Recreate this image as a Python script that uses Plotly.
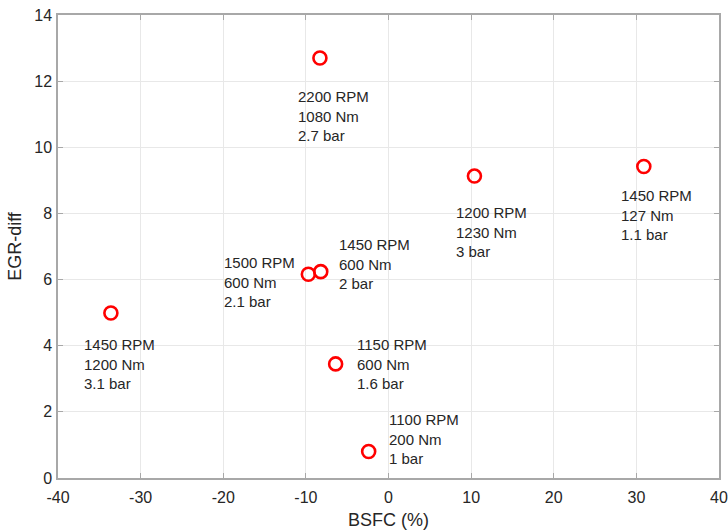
import plotly.graph_objects as go

# Operating points: BSFC change vs EGR difference
bsfc = [-8.3, 10.4, 30.9, -33.6, -9.7, -8.2, -6.4, -2.4]
egr_diff = [12.7, 9.13, 9.42, 4.99, 6.16, 6.24, 3.45, 0.8]
speed_rpm = [2200, 1200, 1450, 1450, 1500, 1450, 1150, 1100]
torque_nm = [1080, 1230, 127, 1200, 600, 600, 600, 200]
bmep_bar = ["2.7", "3", "1.1", "3.1", "2.1", "2", "1.6", "1"]

# Where each text block sits (left edge x, vertical centre y), in data units
label_x = [-11.25, 7.95, 27.95, -37.15, -20.15, -6.2, -4.1, -0.15]
label_y = [10.95, 7.45, 7.95, 3.45, 5.94, 6.47, 3.45, 1.18]

x_ticks = [-40, -30, -20, -10, 0, 10, 20, 30, 40]
x_tick_text = ["-40", "-30", "-20", "-10", "0", "10", "20", "30", "40"]
y_ticks = [0, 2, 4, 6, 8, 10, 12, 14]

FONT = "Liberation Sans, Arial, Helvetica, sans-serif"
AXIS_GREY = "#a8a8a8"
TEXT_COL = "#262626"

fig = go.Figure()
fig.add_trace(go.Scatter(
    x=bsfc, y=egr_diff, mode="markers",
    marker=dict(symbol="circle-open", size=13, color="#ff0000",
                line=dict(width=2.6, color="#ff0000")),
    showlegend=False, hoverinfo="x+y",
))

for xs, ys, n, t, p in zip(label_x, label_y, speed_rpm, torque_nm, bmep_bar):
    fig.add_annotation(
        x=xs, y=ys, xref="x", yref="y",
        text=f"{n} RPM<br>{t} Nm<br>{p} bar",
        showarrow=False, xanchor="left", yanchor="middle", align="left",
        font=dict(family=FONT, size=15, color=TEXT_COL),
    )

axis_common = dict(
    showline=True, linecolor=AXIS_GREY, linewidth=1.5, mirror="ticks",
    ticks="inside", ticklen=5, tickcolor=AXIS_GREY, tickwidth=1,
    showgrid=True, gridcolor="#e8e8e8", gridwidth=1, zeroline=False,
    tickfont=dict(family=FONT, size=16, color=TEXT_COL),
)

fig.update_xaxes(
    range=[-40, 40], tickvals=x_ticks, ticktext=x_tick_text,
    ticklabelstandoff=4,
    title=dict(text="BSFC (%)", font=dict(family=FONT, size=18, color=TEXT_COL), standoff=8),
    **axis_common,
)
fig.update_yaxes(
    range=[0, 14], tickvals=y_ticks,
    ticklabelstandoff=1,
    title=dict(text="EGR-diff", font=dict(family=FONT, size=18, color=TEXT_COL), standoff=8),
    **axis_common,
)

fig.update_layout(
    width=728, height=531,
    margin=dict(l=58, r=9, t=15, b=53, autoexpand=False),
    paper_bgcolor="white", plot_bgcolor="white",
    font=dict(family=FONT, color=TEXT_COL),
)

fig.write_html("out.html")
